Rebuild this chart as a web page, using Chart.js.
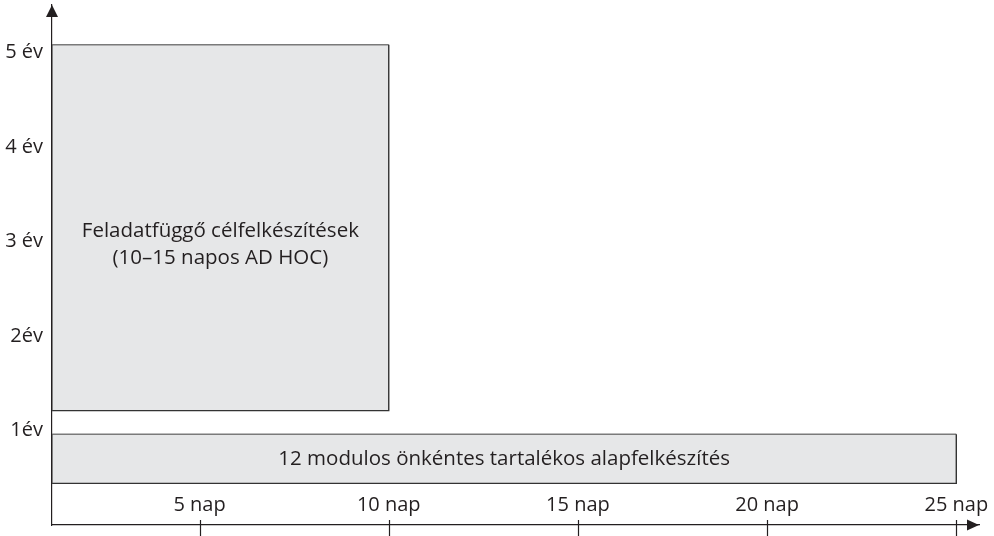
<!DOCTYPE html>
<html>
<head>
<meta charset="utf-8">
<script src="https://cdn.jsdelivr.net/npm/chart.js@4/dist/chart.umd.min.js"></script>
<style>
  html, body { margin: 0; padding: 0; background: #ffffff; }
  #wrap { width: 994px; height: 536px; position: relative; }
</style>
</head>
<body>
<div id="wrap"><canvas id="c" width="994" height="536"></canvas></div>
<script>
// ---- data ----
const xTickValues = [5, 10, 15, 20, 25];
const xTickLabels = ['5 nap', '10 nap', '15 nap', '20 nap', '25 nap'];
const yTickValues = [1, 2, 3, 4, 5];
const yTickLabels = ['1év', '2év', '3 év', '4 év', '5 év'];

const blockNames = ['Feladatfüggő célfelkészítések\n(10–15 napos AD HOC)', '12 modulos önkéntes tartalékos alapfelkészítés'];
const blockXStart = [1.1, 1.1];     // nap
const blockXEnd   = [10, 25];       // nap
const blockYLow   = [1.21, 0.44];   // év
const blockYHigh  = [5.08, 0.96];   // év

const X_MIN = 1.1, X_MAX = 25.6, Y_MIN = 0, Y_MAX = 5.5;

const FONT = '"Open Sans", "Noto Sans", sans-serif';
const TEXT = '#231f20';

function rectPoints(i) {
  return [
    {x: blockXStart[i], y: blockYHigh[i]},
    {x: blockXEnd[i],   y: blockYHigh[i]},
    {x: blockXEnd[i],   y: blockYLow[i]},
    {x: blockXStart[i], y: blockYLow[i]},
    {x: blockXStart[i], y: blockYHigh[i]}
  ];
}
const edgeColors = ['#7a7a7a', '#333333', '#333333', '#555555'];

const outlineSets = blockNames.map((name, i) => ({
  label: name,
  type: 'line',
  data: rectPoints(i),
  showLine: true,
  tension: 0,
  fill: false,
  borderColor: '#444',
  borderWidth: 1.4,
  pointRadius: 0,
  pointHoverRadius: 0,
  segment: { borderColor: ctx => edgeColors[ctx.p0DataIndex] }
}));
const fillSets = blockNames.map((name, i) => ({
  label: name + ' (fill)',
  type: 'line',
  data: [{x: blockXStart[i], y: blockYHigh[i]}, {x: blockXEnd[i], y: blockYHigh[i]}],
  showLine: true,
  tension: 0,
  fill: {value: blockYLow[i]},
  backgroundColor: '#e6e7e8',
  borderWidth: 0,
  borderColor: 'rgba(0,0,0,0)',
  pointRadius: 0,
  pointHoverRadius: 0
}));

const decorPlugin = {
  id: 'decor',
  afterDatasetsDraw(chart) {
    const {ctx, scales} = chart;
    const xs = scales.x, ys = scales.y;
    ctx.save();
    ctx.fillStyle = TEXT;
    ctx.font = '20.5px ' + FONT;
    ctx.textAlign = 'center';
    ctx.textBaseline = 'middle';
    blockNames.forEach((name, i) => {
      const cx = (xs.getPixelForValue(blockXStart[i]) + xs.getPixelForValue(blockXEnd[i])) / 2;
      const cy = (ys.getPixelForValue(blockYLow[i]) + ys.getPixelForValue(blockYHigh[i])) / 2;
      const lines = name.split('\n');
      const lh = 27;
      const off = lines.length > 1 ? 17 : 0;
      lines.forEach((ln, k) => {
        ctx.fillText(ln, cx, cy + off + (k - (lines.length - 1) / 2) * lh);
      });
    });
    ctx.restore();
  },
  afterDraw(chart) {
    const {ctx, chartArea, scales} = chart;
    const xs = scales.x;
    ctx.save();
    ctx.strokeStyle = '#231f20';
    ctx.fillStyle = '#231f20';
    ctx.lineWidth = 1.2;
    xTickValues.forEach(v => {
      const px = Math.round(xs.getPixelForValue(v)) + 0.5;
      ctx.beginPath();
      ctx.moveTo(px, chartArea.bottom - 5);
      ctx.lineTo(px, chartArea.bottom + 11);
      ctx.stroke();
    });
    const ax = chartArea.left;
    ctx.beginPath();
    ctx.moveTo(ax, chartArea.top);
    ctx.lineTo(ax - 6, chartArea.top + 12);
    ctx.lineTo(ax + 6, chartArea.top + 12);
    ctx.closePath();
    ctx.fill();
    const ay = chartArea.bottom;
    ctx.beginPath();
    ctx.moveTo(chartArea.right, ay);
    ctx.lineTo(chartArea.right - 12, ay - 5.5);
    ctx.lineTo(chartArea.right - 12, ay + 5.5);
    ctx.closePath();
    ctx.fill();
    ctx.restore();
  }
};

new Chart(document.getElementById('c'), {
  type: 'scatter',
  data: { datasets: [...outlineSets, ...fillSets] },
  options: {
    responsive: false,
    animation: false,
    events: [],
    layout: { padding: { top: 5, right: 15, left: 0, bottom: 0 } },
    plugins: { legend: { display: false }, tooltip: { enabled: false } },
    scales: {
      x: {
        type: 'linear',
        min: X_MIN, max: X_MAX,
        afterBuildTicks: s => { s.ticks = xTickValues.map(v => ({value: v})); },
        afterFit: s => { s.height = 11; s.paddingLeft = 0; s.paddingRight = 0; s.paddingTop = 0; s.paddingBottom = 0; },
        grid: { display: false, drawTicks: false },
        border: { display: true, color: '#231f20', width: 1.2 },
        ticks: {
          mirror: true,
          padding: 8,
          maxRotation: 0,
          autoSkip: false,
          color: TEXT,
          font: { family: FONT, size: 20 },
          callback: (v) => xTickLabels[xTickValues.indexOf(v)] ?? ''
        }
      },
      y: {
        type: 'linear',
        min: Y_MIN, max: Y_MAX,
        afterBuildTicks: s => { s.ticks = yTickValues.map(v => ({value: v})); },
        afterFit: s => { s.width = 52; s.paddingTop = 0; s.paddingBottom = 0; s.paddingLeft = 0; s.paddingRight = 0; },
        grid: { display: false, drawTicks: false },
        border: { display: true, color: '#231f20', width: 1.2 },
        ticks: {
          padding: 9,
          autoSkip: false,
          color: TEXT,
          font: { family: FONT, size: 20 },
          callback: (v) => yTickLabels[yTickValues.indexOf(v)] ?? ''
        }
      }
    }
  },
  plugins: [decorPlugin]
});
</script>
</body>
</html>
